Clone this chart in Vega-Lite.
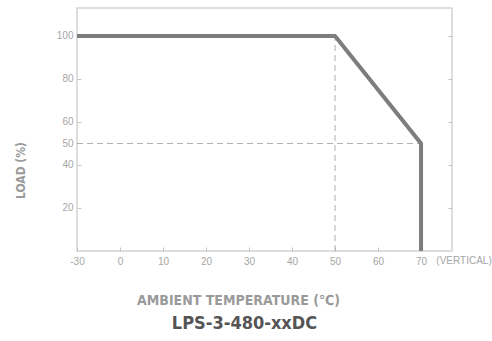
{
  "$schema": "https://vega.github.io/schema/vega-lite/v6.json",
  "width": 375,
  "height": 243,
  "autosize": {"type": "none"},
  "padding": {"left": 77, "top": 8, "right": 40, "bottom": 90},
  "background": "white",
  "config": {
    "view": {"stroke": "#d4d4d4", "strokeWidth": 1.5},
    "axis": {
      "domain": false,
      "grid": false,
      "labelFont": "Liberation Sans",
      "labelFontSize": 10,
      "labelColor": "#a6a6a6",
      "tickColor": "#c4c4c4",
      "tickSize": -4,
      "tickWidth": 1,
      "labelPadding": 8,
      "labelOverlap": false,
      "labelFlush": false,
      "labelBound": false,
      "titleFont": "DejaVu Sans Condensed",
      "titleFontWeight": "bold",
      "titleColor": "#9a9a9a"
    }
  },
  "title": {
    "text": "LPS-3-480-xxDC",
    "orient": "bottom",
    "anchor": "middle",
    "dx": -20,
    "offset": 8,
    "font": "DejaVu Sans Condensed",
    "fontSize": 18,
    "fontWeight": "bold",
    "color": "#555555"
  },
  "datasets": {
    "derating": [
      {"seq": 1, "temp": -30, "load": 100},
      {"seq": 2, "temp": 50, "load": 100},
      {"seq": 3, "temp": 70, "load": 50},
      {"seq": 4, "temp": 70, "load": 0}
    ],
    "guides": [
      {"xa": -30, "xb": 70, "ya": 50, "yb": 50},
      {"xa": 50, "xb": 50, "ya": 0, "yb": 100}
    ],
    "notes": [
      {"temp": 80, "load": 0, "label": "(VERTICAL)"}
    ]
  },
  "layer": [
    {
      "data": {"name": "guides"},
      "mark": {"type": "rule", "strokeDash": [6, 4], "color": "#b0b0b0", "strokeWidth": 1},
      "encoding": {
        "x": {
          "field": "xa",
          "type": "quantitative",
          "scale": {"domain": [-30, 0, 77.2], "range": [0, 43, 375], "nice": false, "zero": false},
          "axis": {
            "values": [-30, 0, 10, 20, 30, 40, 50, 60, 70],
            "labelExpr": "datum.value == -30 ? '-30' : datum.label",
            "title": "AMBIENT TEMPERATURE (℃)",
            "titleFontSize": 14,
            "titleX": 161,
            "titleY": 49,
            "titleAlign": "center",
            "titleBaseline": "middle",
            "labelPadding": 9
          }
        },
        "x2": {"field": "xb"},
        "y": {
          "field": "ya",
          "type": "quantitative",
          "scale": {"domain": [0, 113], "nice": false, "zero": false},
          "axis": {"orient": "right", "labels": false, "values": [20, 40, 60, 80, 100], "title": null}
        },
        "y2": {"field": "yb"}
      }
    },
    {
      "data": {"name": "derating"},
      "mark": {"type": "line", "color": "#7d7d7d", "strokeWidth": 4, "strokeCap": "butt", "strokeJoin": "miter"},
      "encoding": {
        "x": {
          "field": "temp",
          "type": "quantitative",
          "scale": {"domain": [-30, 0, 77.2], "range": [0, 43, 375], "nice": false, "zero": false}
        },
        "y": {
          "field": "load",
          "type": "quantitative",
          "scale": {"domain": [0, 113], "nice": false, "zero": false},
          "axis": {
            "orient": "left",
            "values": [20, 40, 50, 60, 80, 100],
            "title": "LOAD (%)",
            "titleFontSize": 12,
            "titleX": -57,
            "titleY": 162,
            "titleAngle": -90,
            "titleAlign": "center",
            "titleBaseline": "middle"
          }
        },
        "order": {"field": "seq", "type": "quantitative"}
      }
    },
    {
      "data": {"name": "notes"},
      "mark": {"type": "text", "font": "Liberation Sans", "fontSize": 10, "color": "#a6a6a6", "align": "center", "baseline": "top", "dy": 5},
      "encoding": {
        "x": {
          "field": "temp",
          "type": "quantitative",
          "scale": {"domain": [-30, 0, 77.2], "range": [0, 43, 375], "nice": false, "zero": false}
        },
        "y": {
          "field": "load",
          "type": "quantitative",
          "scale": {"domain": [0, 113], "nice": false, "zero": false},
          "axis": null
        },
        "text": {"field": "label"}
      }
    }
  ],
  "resolve": {"scale": {"y": "independent"}}
}
